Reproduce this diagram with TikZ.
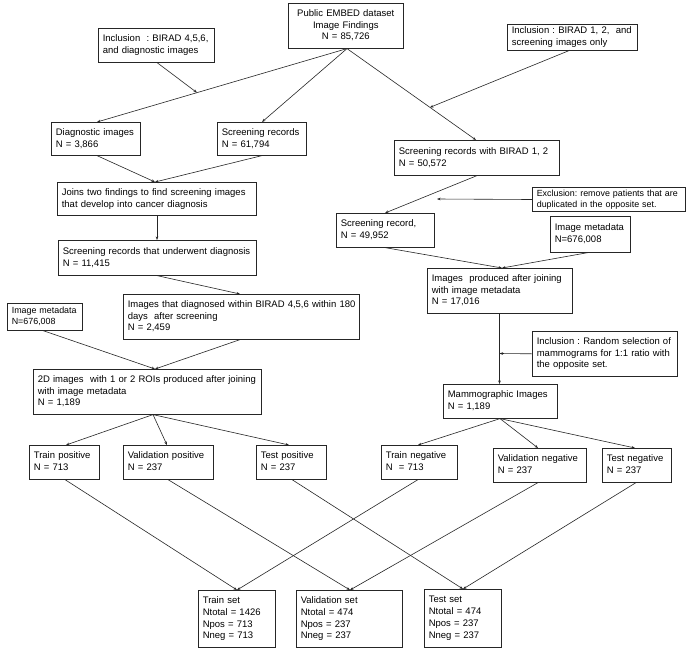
\documentclass[tikz,border=0pt]{standalone}
\usepackage{fontspec}
\setmainfont{Liberation Sans}
\usetikzlibrary{arrows.meta,calc}
\frenchspacing
\newcommand\bxt[1]{\begin{tabular}{@{}l@{}}#1\end{tabular}}
\newcommand\bxc[1]{\begin{tabular}{@{}c@{}}#1\end{tabular}}
\tikzset{
  bx/.style={draw=black!85, line width=0.6pt, rectangle, anchor=north west, align=left,
    inner xsep=4.5pt, inner ysep=1pt, font=\fontsize{9.5}{11.8}\selectfont\frenchspacing},
  small/.style={font=\fontsize{8.9}{11.2}\selectfont\frenchspacing},
  arr/.style={draw=black!85, line width=0.6pt, -{Stealth[length=3.5pt,width=2.6pt]}}
}
\begin{document}
\begin{tikzpicture}[x=1pt,y=-1pt]
\useasboundingbox[fill=white] (0,0) rectangle (700,651);
% boxes
\node[bx, align=center, text width=106pt, minimum height=45pt] (pub) at (288,3) {\bxc{Public EMBED dataset\\Image Findings\\N = 85,726}};
\node[bx, text width=107pt, minimum height=34pt] (inc1) at (98,28) {\bxt{Inclusion~~: BIRAD 4,5,6,\\and diagnostic images}};
\node[bx, text width=121pt, minimum height=25pt] (inc2) at (507,24) {\bxt{Inclusion : BIRAD 1, 2,~~and\\screening images only}};
\node[bx, text width=80pt, minimum height=33pt] (diag) at (51,122) {\bxt{Diagnostic images\\N = 3,866}};
\node[bx, text width=80pt, minimum height=33pt] (scr) at (217,122) {\bxt{Screening records\\N = 61,794}};
\node[bx, text width=190pt, minimum height=33pt] (join) at (57,182) {\bxt{Joins two findings to find screening images\\that develop into cancer diagnosis}};
\node[bx, text width=156pt, minimum height=35pt] (scr12) at (394,140) {\bxt{Screening records with BIRAD 1, 2\\N = 50,572}};
\node[bx, small, text width=144pt, minimum height=24pt] (excl) at (532,187) {\bxt{Exclusion: remove patients that are\\duplicated in the opposite set.}};
\node[bx, text width=189pt, minimum height=35pt] (under) at (58,240) {\bxt{Screening records that underwent diagnosis\\N = 11,415}};
\node[bx, text width=89pt, minimum height=34pt] (scrrec) at (336,213) {\bxt{Screening record,\\N = 49,952}};
\node[bx, text width=71pt, minimum height=36pt] (meta2) at (550,216) {\bxt{Image metadata\\N=676,008}};
\node[bx, text width=227pt, minimum height=45pt] (imgbir) at (123,294) {\bxt{Images that diagnosed within BIRAD 4,5,6 within 180\\days~~after screening\\N = 2,459}};
\node[bx, small, text width=66pt, minimum height=27pt] (meta1) at (7,303) {\bxt{Image metadata\\N=676,008}};
\node[bx, text width=136pt, minimum height=45pt] (imgprod) at (427,268) {\bxt{Images~~produced after joining\\with image metadata\\N = 17,016}};
\node[bx, text width=219pt, minimum height=45pt] (twod) at (33,369) {\bxt{2D images~~with 1 or 2 ROIs produced after joining\\with image metadata\\N = 1,189}};
\node[bx, text width=136pt, minimum height=45pt] (incr) at (532,331) {\bxt{Inclusion : Random selection of\\mammograms for 1:1 ratio with\\the opposite set.}};
\node[bx, text width=105pt, minimum height=34pt] (mammo) at (443,384) {\bxt{Mammographic Images\\N = 1,189}};
\node[bx, text width=61pt, minimum height=34pt] (trp) at (29,445) {\bxt{Train positive\\N = 713}};
\node[bx, text width=81pt, minimum height=34pt] (vap) at (123,445) {\bxt{Validation positive\\N = 237}};
\node[bx, text width=61pt, minimum height=34pt] (tep) at (256,445) {\bxt{Test positive\\N = 237}};
\node[bx, text width=67pt, minimum height=34pt] (trn) at (381,445) {\bxt{Train negative\\N~~= 713}};
\node[bx, text width=84pt, minimum height=34pt] (van) at (493,448) {\bxt{Validation negative\\N = 237}};
\node[bx, text width=60pt, minimum height=34pt] (ten) at (602,448) {\bxt{Test negative\\N = 237}};
\node[bx, text width=68pt, minimum height=57pt] (trs) at (198,590) {\bxt{Train set\\Ntotal = 1426\\Npos = 713\\Nneg = 713}};
\node[bx, text width=97pt, minimum height=57pt] (vas) at (296,590) {\bxt{Validation set\\Ntotal = 474\\Npos = 237\\Nneg = 237}};
\node[bx, text width=68pt, minimum height=58pt] (tes) at (424,589) {\bxt{Test set\\Ntotal = 474\\Npos = 237\\Nneg = 237}};
% junction coordinates
\coordinate (pubS) at ([xshift=59pt]pub.south west);
\coordinate (diagN) at ([xshift=46pt]diag.north west);
\coordinate (scr12N) at ([xshift=82pt]scr12.north west);
\coordinate (j1) at ($(pubS)!0.6!(diagN)$);
\coordinate (j2) at ($(pubS)!0.643!(scr12N)$);
\coordinate (j3) at (437,199);
\coordinate (j4) at (499.5,353.5);
% top connectors
\draw[arr] (pubS) -- (diagN);
\draw[arr] (pubS) -- ([xshift=45pt]scr.north west);
\draw[arr] (pubS) -- (scr12N);
\draw[arr] ([xshift=59pt]inc1.south west) -- (j1);
\draw[arr] ([xshift=63pt]inc2.south west) -- (j2);
% left branch
\draw[arr] ([xshift=46pt]diag.south west) -- ([xshift=98pt]join.north west);
\draw[arr] ([xshift=45pt]scr.south west) -- ([xshift=98pt]join.north west);
\draw[arr] ([xshift=100pt]join.south west) -- ([xshift=99pt]under.north west);
\draw[arr] ([xshift=99pt]under.south west) -- ([xshift=117pt]imgbir.north west);
\draw[arr] ([xshift=36pt]meta1.south west) -- ([xshift=122pt]twod.north west);
\draw[arr] ([xshift=117pt]imgbir.south west) -- ([xshift=122pt]twod.north west);
\draw[arr] ([xshift=120pt]twod.south west) -- ([xshift=37pt]trp.north west);
\draw[arr] ([xshift=120pt]twod.south west) -- ([xshift=44pt]vap.north west);
\draw[arr] ([xshift=120pt]twod.south west) -- ([xshift=33pt]tep.north west);
% right branch
\draw[arr] ([xshift=83pt]scr12.south west) -- ([xshift=49pt]scrrec.north west);
\draw[arr] (excl.west) -- (j3);
\draw[arr] ([xshift=49pt]scrrec.south west) -- ([xshift=75pt]imgprod.north west);
\draw[arr] ([xshift=38pt]meta2.south west) -- ([xshift=75pt]imgprod.north west);
\draw[arr] ([xshift=72.5pt]imgprod.south west) -- ([xshift=56.5pt]mammo.north west);
\draw[arr] (incr.west) -- (j4);
\draw[arr] ([xshift=57pt]mammo.south west) -- ([xshift=37pt]trn.north west);
\draw[arr] ([xshift=57pt]mammo.south west) -- ([xshift=45pt]van.north west);
\draw[arr] ([xshift=57pt]mammo.south west) -- ([xshift=33pt]ten.north west);
% to final sets
\draw[arr] ([xshift=36pt]trp.south west) -- ([xshift=39pt]trs.north west);
\draw[arr] ([xshift=45pt]vap.south west) -- ([xshift=54pt]vas.north west);
\draw[arr] ([xshift=36pt]tep.south west) -- ([xshift=39pt]tes.north west);
\draw[arr] ([xshift=37pt]trn.south west) -- ([xshift=39pt]trs.north west);
\draw[arr] ([xshift=45pt]van.south west) -- ([xshift=54pt]vas.north west);
\draw[arr] ([xshift=34pt]ten.south west) -- ([xshift=39pt]tes.north west);
\end{tikzpicture}
\end{document}
